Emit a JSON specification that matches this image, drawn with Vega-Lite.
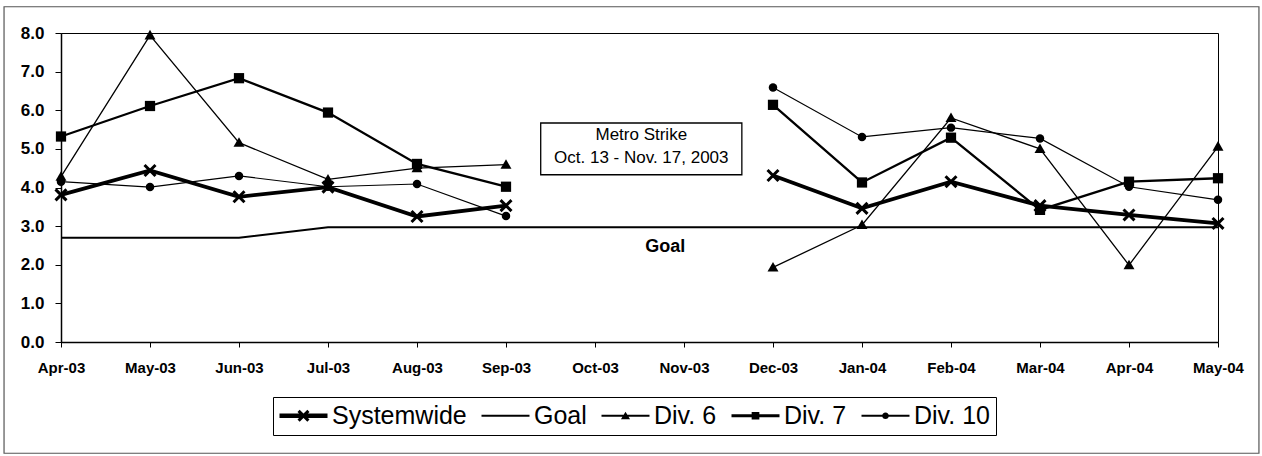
{
  "$schema": "https://vega.github.io/schema/vega-lite/v6.json",
  "width": 1157,
  "height": 309,
  "autosize": {"type": "none"},
  "padding": {"left": 61, "top": 33, "right": 44, "bottom": 114},
  "background": "white",
  "config": {
    "font": "Liberation Sans",
    "view": {"stroke": "black", "strokeWidth": 1},
    "axis": {"grid": false, "domainColor": "black", "tickColor": "black", "labelColor": "black", "labelFontWeight": "bold", "labelFont": "Liberation Sans"},
    "axisY": {"labelOverlap": false, "labelFontSize": 17, "tickSize": 6, "labelPadding": 11, "domainWidth": 1.5}
  },
  "datasets": {
    "d": [
      {"month": "Apr-03", "series": "Systemwide", "seg": "a", "value": 3.81},
      {"month": "May-03", "series": "Systemwide", "seg": "a", "value": 4.44},
      {"month": "Jun-03", "series": "Systemwide", "seg": "a", "value": 3.76},
      {"month": "Jul-03", "series": "Systemwide", "seg": "a", "value": 4.01},
      {"month": "Aug-03", "series": "Systemwide", "seg": "a", "value": 3.25},
      {"month": "Sep-03", "series": "Systemwide", "seg": "a", "value": 3.53},
      {"month": "Dec-03", "series": "Systemwide", "seg": "b", "value": 4.31},
      {"month": "Jan-04", "series": "Systemwide", "seg": "b", "value": 3.46},
      {"month": "Feb-04", "series": "Systemwide", "seg": "b", "value": 4.15},
      {"month": "Mar-04", "series": "Systemwide", "seg": "b", "value": 3.53},
      {"month": "Apr-04", "series": "Systemwide", "seg": "b", "value": 3.29},
      {"month": "May-04", "series": "Systemwide", "seg": "b", "value": 3.07},
      {"month": "Apr-03", "series": "Goal", "seg": "a", "value": 2.7},
      {"month": "May-03", "series": "Goal", "seg": "a", "value": 2.7},
      {"month": "Jun-03", "series": "Goal", "seg": "a", "value": 2.7},
      {"month": "Jul-03", "series": "Goal", "seg": "a", "value": 2.97},
      {"month": "Aug-03", "series": "Goal", "seg": "a", "value": 2.97},
      {"month": "Sep-03", "series": "Goal", "seg": "a", "value": 2.97},
      {"month": "Oct-03", "series": "Goal", "seg": "a", "value": 2.97},
      {"month": "Nov-03", "series": "Goal", "seg": "a", "value": 2.97},
      {"month": "Dec-03", "series": "Goal", "seg": "a", "value": 2.97},
      {"month": "Jan-04", "series": "Goal", "seg": "a", "value": 2.97},
      {"month": "Feb-04", "series": "Goal", "seg": "a", "value": 2.97},
      {"month": "Mar-04", "series": "Goal", "seg": "a", "value": 2.97},
      {"month": "Apr-04", "series": "Goal", "seg": "a", "value": 2.97},
      {"month": "May-04", "series": "Goal", "seg": "a", "value": 2.97},
      {"month": "Apr-03", "series": "Div. 6", "seg": "a", "value": 4.28},
      {"month": "May-03", "series": "Div. 6", "seg": "a", "value": 7.94},
      {"month": "Jun-03", "series": "Div. 6", "seg": "a", "value": 5.16},
      {"month": "Jul-03", "series": "Div. 6", "seg": "a", "value": 4.21},
      {"month": "Aug-03", "series": "Div. 6", "seg": "a", "value": 4.5},
      {"month": "Sep-03", "series": "Div. 6", "seg": "a", "value": 4.59},
      {"month": "Dec-03", "series": "Div. 6", "seg": "b", "value": 1.93},
      {"month": "Jan-04", "series": "Div. 6", "seg": "b", "value": 3.03},
      {"month": "Feb-04", "series": "Div. 6", "seg": "b", "value": 5.8},
      {"month": "Mar-04", "series": "Div. 6", "seg": "b", "value": 5.0},
      {"month": "Apr-04", "series": "Div. 6", "seg": "b", "value": 1.99},
      {"month": "May-04", "series": "Div. 6", "seg": "b", "value": 5.06},
      {"month": "Apr-03", "series": "Div. 7", "seg": "a", "value": 5.32},
      {"month": "May-03", "series": "Div. 7", "seg": "a", "value": 6.11},
      {"month": "Jun-03", "series": "Div. 7", "seg": "a", "value": 6.83},
      {"month": "Jul-03", "series": "Div. 7", "seg": "a", "value": 5.94},
      {"month": "Aug-03", "series": "Div. 7", "seg": "a", "value": 4.61},
      {"month": "Sep-03", "series": "Div. 7", "seg": "a", "value": 4.02},
      {"month": "Dec-03", "series": "Div. 7", "seg": "b", "value": 6.14},
      {"month": "Jan-04", "series": "Div. 7", "seg": "b", "value": 4.13},
      {"month": "Feb-04", "series": "Div. 7", "seg": "b", "value": 5.29},
      {"month": "Mar-04", "series": "Div. 7", "seg": "b", "value": 3.42},
      {"month": "Apr-04", "series": "Div. 7", "seg": "b", "value": 4.15},
      {"month": "May-04", "series": "Div. 7", "seg": "b", "value": 4.24},
      {"month": "Apr-03", "series": "Div. 10", "seg": "a", "value": 4.15},
      {"month": "May-03", "series": "Div. 10", "seg": "a", "value": 4.01},
      {"month": "Jun-03", "series": "Div. 10", "seg": "a", "value": 4.3},
      {"month": "Jul-03", "series": "Div. 10", "seg": "a", "value": 4.02},
      {"month": "Aug-03", "series": "Div. 10", "seg": "a", "value": 4.09},
      {"month": "Sep-03", "series": "Div. 10", "seg": "a", "value": 3.26},
      {"month": "Dec-03", "series": "Div. 10", "seg": "b", "value": 6.59},
      {"month": "Jan-04", "series": "Div. 10", "seg": "b", "value": 5.31},
      {"month": "Feb-04", "series": "Div. 10", "seg": "b", "value": 5.55},
      {"month": "Mar-04", "series": "Div. 10", "seg": "b", "value": 5.27},
      {"month": "Apr-04", "series": "Div. 10", "seg": "b", "value": 4.02},
      {"month": "May-04", "series": "Div. 10", "seg": "b", "value": 3.68}
    ]
  },
  "layer": [
    {
      "data": {"name": "d"},
      "encoding": {
        "x": {
          "field": "month", "type": "ordinal",
          "scale": {"type": "point", "padding": 0, "domain": ["Apr-03", "May-03", "Jun-03", "Jul-03", "Aug-03", "Sep-03", "Oct-03", "Nov-03", "Dec-03", "Jan-04", "Feb-04", "Mar-04", "Apr-04", "May-04"]},
          "axis": {"title": null, "labelAngle": 0, "labelFontSize": 15, "tickSize": 5, "labelPadding": 13, "domainWidth": 1.5, "labelOverlap": false}
        },
        "y": {
          "field": "value", "type": "quantitative",
          "scale": {"domain": [0, 8]},
          "axis": {"title": null, "values": [0, 1, 2, 3, 4, 5, 6, 7, 8], "format": ".1f", "labelOverlap": false}
        },
        "detail": {"field": "seg", "type": "nominal"}
      },
      "layer": [
        {
          "transform": [{"filter": "datum.series === 'Goal'"}],
          "mark": {"type": "line", "color": "black", "strokeWidth": 1.9}
        },
        {
          "transform": [{"filter": "datum.series === 'Div. 10'"}],
          "mark": {"type": "line", "color": "black", "strokeWidth": 1.2,
            "point": {"shape": "circle", "size": 72, "filled": true, "color": "black", "opacity": 1}}
        },
        {
          "transform": [{"filter": "datum.series === 'Div. 6'"}],
          "mark": {"type": "line", "color": "black", "strokeWidth": 1.3,
            "point": {"shape": "M0,-1L1,0.75L-1,0.75Z", "size": 120, "filled": true, "color": "black", "opacity": 1}}
        },
        {
          "transform": [{"filter": "datum.series === 'Div. 7'"}],
          "mark": {"type": "line", "color": "black", "strokeWidth": 2.3,
            "point": {"shape": "square", "size": 105, "filled": true, "color": "black", "opacity": 1}}
        },
        {
          "transform": [{"filter": "datum.series === 'Systemwide'"}],
          "mark": {"type": "line", "color": "black", "strokeWidth": 3.8,
            "point": {"shape": "M-1,-1L1,1M-1,1L1,-1", "size": 120, "filled": false, "strokeWidth": 3, "color": "black", "opacity": 1}}
        },
        {
          "transform": [{"filter": "false"}],
          "mark": {"type": "point", "filled": true, "color": "black", "opacity": 1},
          "encoding": {
            "shape": {
              "field": "series", "type": "nominal",
              "scale": {
                "domain": ["Systemwide", "Goal", "Div. 6", "Div. 7", "Div. 10"],
                "range": [
                  "M-2,-0.18L2,-0.18L2,0.18L-2,0.18Z M-0.32,-0.5L0.5,0.32L0.32,0.5L-0.5,-0.32Z M-0.5,0.32L0.32,-0.5L0.5,-0.32L-0.32,0.5Z",
                  "M-2,-0.09L2,-0.09L2,0.09L-2,0.09Z",
                  "M-2,-0.09L2,-0.09L2,0.09L-2,0.09Z M0,-0.34L0.38,0.3L-0.38,0.3Z",
                  "M-2,-0.13L2,-0.13L2,0.13L-2,0.13Z M-0.32,-0.32L0.32,-0.32L0.32,0.32L-0.32,0.32Z",
                  "M-2,-0.08L2,-0.08L2,0.08L-2,0.08Z M-0.28,0A0.28 0.28 0 1 1 0.28,0A0.28 0.28 0 1 1 -0.28,0Z"
                ]
              },
              "legend": {
                "orient": "none", "legendX": 212, "legendY": 364, "direction": "horizontal",
                "title": null, "symbolSize": 576, "symbolOffset": 12, "symbolStrokeWidth": 0, "symbolFillColor": "black", "symbolOpacity": 1,
                "labelFontSize": 25, "labelFont": "Liberation Sans", "labelColor": "black",
                "labelOffset": 16, "columnPadding": 14, "padding": 6, "strokeColor": "black",
                "labelLimit": 0, "symbolLimit": 0
              }
            }
          }
        }
      ]
    },
    {
      "data": {"values": [{}]},
      "layer": [
        {
          "mark": {"type": "rect", "fill": null, "stroke": "#555555", "strokeWidth": 1.2, "clip": false},
          "encoding": {
            "x": {"datum": -0.64, "type": "quantitative", "scale": {"domain": [0, 13]}, "axis": null},
            "x2": {"datum": 13.46},
            "y": {"datum": 8.68, "type": "quantitative", "axis": {"title": null, "values": [0, 1, 2, 3, 4, 5, 6, 7, 8], "format": ".1f", "labelOverlap": false}},
            "y2": {"datum": -2.88}
          }
        },
        {
          "mark": {"type": "rect", "fill": "white", "stroke": "black", "strokeWidth": 1.3},
          "encoding": {
            "x": {"datum": 5.39, "type": "quantitative", "axis": null},
            "x2": {"datum": 7.65},
            "y": {"datum": 4.33, "type": "quantitative", "axis": {"title": null, "values": [0, 1, 2, 3, 4, 5, 6, 7, 8], "format": ".1f", "labelOverlap": false}},
            "y2": {"datum": 5.67}
          }
        },
        {
          "mark": {"type": "text", "text": ["Metro Strike", "Oct. 13 - Nov. 17, 2003"], "fontSize": 17, "lineHeight": 23, "align": "center", "baseline": "middle", "font": "Liberation Sans", "color": "black"},
          "encoding": {
            "x": {"datum": 6.52, "type": "quantitative", "axis": null},
            "y": {"datum": 5.36, "type": "quantitative", "axis": {"title": null, "values": [0, 1, 2, 3, 4, 5, 6, 7, 8], "format": ".1f", "labelOverlap": false}}
          }
        },
        {
          "mark": {"type": "text", "text": "Goal", "fontSize": 18, "fontWeight": "bold", "align": "center", "baseline": "middle", "font": "Liberation Sans", "color": "black"},
          "encoding": {
            "x": {"datum": 6.79, "type": "quantitative", "axis": null},
            "y": {"datum": 2.47, "type": "quantitative", "axis": {"title": null, "values": [0, 1, 2, 3, 4, 5, 6, 7, 8], "format": ".1f", "labelOverlap": false}}
          }
        }
      ]
    }
  ],
  "resolve": {"scale": {"x": "independent"}}
}
